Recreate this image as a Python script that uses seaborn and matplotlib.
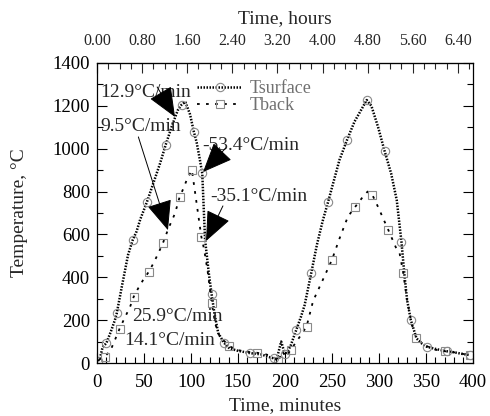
import numpy as np
import seaborn as sns
import matplotlib
matplotlib.use("Agg")
import matplotlib.pyplot as plt
from matplotlib.ticker import MultipleLocator, FormatStrFormatter

# surface temperature (minutes, deg C)
t_surf = [1, 3, 6, 10, 15, 19, 21, 27, 33, 38, 42, 46, 53, 60, 67, 73, 80, 86, 90, 94,
          99, 103, 106, 109, 112, 115, 119, 122, 125, 129, 135, 141, 150, 163, 175, 182,
          188, 191, 196, 200, 203, 206, 212, 217, 221, 228, 234, 240, 246, 252, 258, 266,
          274, 281, 287, 292, 299, 306, 313, 319, 324, 327, 330, 334, 340, 346, 351, 358,
          365, 372, 380, 388, 397]
T_surf = [10, 20, 75, 93, 150, 200, 232, 370, 504, 574, 613, 670, 750, 840, 930, 1017,
          1110, 1180, 1205, 1219, 1160, 1080, 1030, 960, 885, 574, 418, 320, 231, 140, 95,
          68, 57, 46, 40, 29, 22, 14, 100, 40, 55, 80, 154, 215, 271, 420, 551, 660, 753,
          850, 947, 1040, 1126, 1180, 1227, 1200, 1103, 990, 885, 760, 566, 420, 294, 200,
          115, 90, 76, 68, 61, 55, 50, 43, 37]

# back face temperature
t_back = [2, 8, 14, 19, 24, 30, 35, 39, 44, 49, 55, 60, 65, 70, 76, 83, 88, 92, 96, 101,
          104, 108, 111, 114, 118, 122, 126, 130, 140, 150, 160, 170, 180, 187, 193, 197,
          201, 206, 211, 217, 223, 230, 240, 250, 258, 267, 275, 282, 288, 293, 300, 305,
          310, 318, 322, 326, 330, 335, 340, 350, 360, 370, 380, 390, 397]
T_back = [15, 30, 55, 107, 160, 216, 260, 309, 350, 387, 425, 465, 510, 558, 628, 698,
          776, 815, 860, 900, 807, 683, 590, 530, 420, 280, 180, 130, 80, 60, 52, 48, 40,
          30, 8, 55, 30, 60, 92, 130, 170, 290, 385, 481, 580, 683, 730, 770, 800, 785,
          720, 670, 621, 540, 513, 418, 294, 180, 115, 80, 62, 55, 50, 42, 38]

# rate labels: text, text position, arrow tip (None = no arrow)
rate_labels = ["12.9\u00b0C/min", "9.5\u00b0C/min", "-53.4\u00b0C/min", "-35.1\u00b0C/min",
               "25.9\u00b0C/min", "14.1\u00b0C/min"]
label_xy = [(3, 1262), (4, 1105), (112, 1017), (120, 776), (37, 219), (29, 104)]
arrow_tip = [(83, 1148), (75.5, 620), (112.8, 891), (116, 569), None, None]
arrow_tail = [(64, 1288), (44, 1055), (137, 1003), (134, 733), None, None]

sns.set_style("ticks")
plt.rcParams['font.family'] = ['Liberation Serif', 'DejaVu Serif']

fig = plt.figure(figsize=(4.9, 4.16), dpi=100)
ax = fig.add_axes([0.198, 0.1274, 0.767, 0.7212])

sns.lineplot(x=t_surf, y=T_surf, ax=ax, sort=False, estimator=None, color='black',
             lw=1.8, linestyle=(0, (0.6, 0.6)), marker='o', markersize=6,
             markerfacecolor='none', markeredgecolor='#8a8a8a', markeredgewidth=0.8,
             markevery=3, label='Tsurface')
sns.lineplot(x=t_back, y=T_back, ax=ax, sort=False, estimator=None, color='black',
             lw=1.3, linestyle=(0, (1.5, 3.5)), marker='s', markersize=6,
             markerfacecolor='none', markeredgecolor='#8a8a8a', markeredgewidth=0.8,
             markevery=(1, 3), label='Tback')

ax.set_xlim(0, 400)
ax.set_ylim(0, 1400)
ax.xaxis.set_major_locator(MultipleLocator(50))
ax.xaxis.set_minor_locator(MultipleLocator(10))
ax.yaxis.set_major_locator(MultipleLocator(200))
ax.yaxis.set_minor_locator(MultipleLocator(100))
ax.tick_params(which='both', direction='in', right=True, top=False, colors='black',
               labelsize=13.5)
ax.tick_params(which='major', length=7, width=0.8)
ax.tick_params(which='minor', length=4, width=0.8)
ax.tick_params(axis='x', pad=8)
ax.tick_params(axis='y', pad=5)
for s in ax.spines.values():
    s.set_linewidth(0.9)
    s.set_color('black')

ax.set_xlabel('Time, minutes', fontsize=14, labelpad=4)
ax.set_ylabel('Temperature, \u00b0C', fontsize=14, labelpad=18)

secax = ax.secondary_xaxis('top', functions=(lambda m: m / 60.0, lambda h: h * 60.0))
secax.set_xticks(np.arange(0, 6.41, 0.8))
secax.xaxis.set_minor_locator(MultipleLocator(0.2))
secax.xaxis.set_major_formatter(FormatStrFormatter('%.2f'))
secax.tick_params(which='both', direction='in', labelsize=11.5, pad=10)
secax.tick_params(which='major', length=7, width=0.8)
secax.tick_params(which='minor', length=4, width=0.8)
secax.set_xlabel('Time, hours', fontsize=14, labelpad=7)

for txt, pos, tip, tail in zip(rate_labels, label_xy, arrow_tip, arrow_tail):
    ax.text(pos[0], pos[1], txt, fontsize=14, ha='left', va='center')
    if tip is not None:
        ax.annotate('', xy=tip, xytext=tail,
                    arrowprops=dict(arrowstyle='-|>,head_length=0.95,head_width=0.4',
                                    mutation_scale=20, lw=0.7, color='black',
                                    shrinkA=0, shrinkB=0))

leg = ax.legend(loc='upper left', bbox_to_anchor=(0.266, 0.943), frameon=False,
                fontsize=13, handlelength=2.5, handletextpad=0.4, labelspacing=0.0,
                borderpad=0, borderaxespad=0)
for t in leg.get_texts():
    t.set_color('#707070')

fig.savefig('out.png', dpi=100)
